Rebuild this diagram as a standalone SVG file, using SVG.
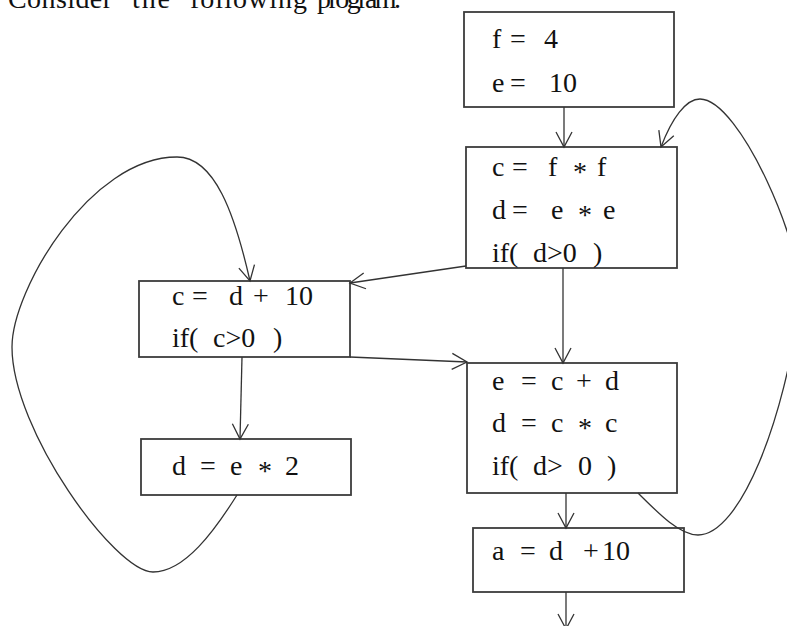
<svg xmlns="http://www.w3.org/2000/svg" width="787" height="626" viewBox="0 0 787 626">
  <style>
    .box { fill: #ffffff; stroke: #3c3c3c; stroke-width: 1.8; }
    .code { font-family: "Liberation Serif", "Times New Roman", serif; font-size: 28px; fill: #111111; }
    .title { font-family: "Liberation Serif", "Times New Roman", serif; font-size: 28px; fill: #111111; }
    .edge { fill: none; stroke: #333333; stroke-width: 1.3; marker-end: url(#arrow); }
  </style>
  <defs>
    <!-- open V arrowhead -->
    <marker id="arrow" markerUnits="userSpaceOnUse" markerWidth="20" markerHeight="20"
            viewBox="0 0 20 20" refX="16" refY="8" orient="auto" overflow="visible">
      <path d="M1,0 L16,8 L1,16" fill="none" stroke="#333333" stroke-width="1.3"/>
    </marker>
  </defs>

  <rect width="787" height="626" fill="#ffffff"/>

  <!-- heading line, clipped by the top edge -->
  <g id="heading" class="title">
    <text x="8" y="8" textLength="104" lengthAdjust="spacing">Consider</text>
    <text x="132" y="8" textLength="38" lengthAdjust="spacing">the</text>
    <text x="190" y="8" textLength="117" lengthAdjust="spacing">following</text>
    <text x="317" y="8" textLength="84" lengthAdjust="spacing">program.</text>
  </g>

  <!-- basic blocks -->
  <g id="b1">
    <rect class="box" x="464" y="12" width="210" height="95"/>
    <text class="code" y="48"><tspan x="492">f</tspan><tspan x="510">=</tspan><tspan x="544">4</tspan></text>
    <text class="code" y="92"><tspan x="492">e</tspan><tspan x="510">=</tspan><tspan x="549">10</tspan></text>
  </g>

  <g id="b2">
    <rect class="box" x="466" y="147" width="211" height="121"/>
    <text class="code" y="176"><tspan x="492">c</tspan><tspan x="512">=</tspan><tspan x="548">f</tspan><tspan x="573" y="181">*</tspan><tspan x="597" y="176">f</tspan></text>
    <text class="code" y="219"><tspan x="492">d</tspan><tspan x="512">=</tspan><tspan x="551">e</tspan><tspan x="578" y="224">*</tspan><tspan x="603" y="219">e</tspan></text>
    <text class="code" y="262"><tspan x="492">if(</tspan><tspan x="533">d&gt;0</tspan><tspan x="593">)</tspan></text>
  </g>

  <g id="b3">
    <rect class="box" x="139" y="281" width="211" height="76"/>
    <text class="code" y="305"><tspan x="172">c</tspan><tspan x="192">=</tspan><tspan x="229">d</tspan><tspan x="253">+</tspan><tspan x="285">10</tspan></text>
    <text class="code" y="347"><tspan x="172">if(</tspan><tspan x="213">c&gt;0</tspan><tspan x="273">)</tspan></text>
  </g>

  <g id="b4">
    <rect class="box" x="141" y="439" width="210" height="56"/>
    <text class="code" y="475"><tspan x="172">d</tspan><tspan x="200">=</tspan><tspan x="230">e</tspan><tspan x="258" y="480">*</tspan><tspan x="285" y="475">2</tspan></text>
  </g>

  <g id="b5">
    <rect class="box" x="467" y="363" width="210" height="130"/>
    <text class="code" y="390"><tspan x="492">e</tspan><tspan x="521">=</tspan><tspan x="551">c</tspan><tspan x="576">+</tspan><tspan x="605">d</tspan></text>
    <text class="code" y="432"><tspan x="492">d</tspan><tspan x="521">=</tspan><tspan x="551">c</tspan><tspan x="578" y="437">*</tspan><tspan x="605" y="432">c</tspan></text>
    <text class="code" y="475"><tspan x="492">if(</tspan><tspan x="533">d&gt;</tspan><tspan x="578">0</tspan><tspan x="607">)</tspan></text>
  </g>

  <g id="b6">
    <rect class="box" x="473" y="528" width="211" height="64"/>
    <text class="code" y="560"><tspan x="492">a</tspan><tspan x="520">=</tspan><tspan x="549">d</tspan><tspan x="583">+</tspan><tspan x="602">10</tspan></text>
  </g>

  <!-- control-flow edges -->
  <g id="edges">
    <path class="edge" d="M564,107 L564,147"/>
    <path class="edge" d="M563,268 L563,363"/>
    <path class="edge" d="M466,266 L350,283"/>
    <path class="edge" d="M350,357 L467,362"/>
    <path class="edge" d="M242,357 L240,439"/>
    <path class="edge" d="M566,493 L566,528"/>
    <path class="edge" d="M566,592 L566,629"/>
    <!-- back edge: b4 -> b3 -->
    <path class="edge" d="M237,495 C215,530 185,572 153,572 C115,572 12,430 12,347 C12,290 90,157 177,157 C215,157 235,215 250,281"/>
    <!-- back edge: b5 -> b2 -->
    <path class="edge" d="M638,493 C660,515 680,535 698,535 C740,535 785,420 800,300 C805,250 740,99 700,99 C686,99 672,118 661,147"/>
  </g>
</svg>
